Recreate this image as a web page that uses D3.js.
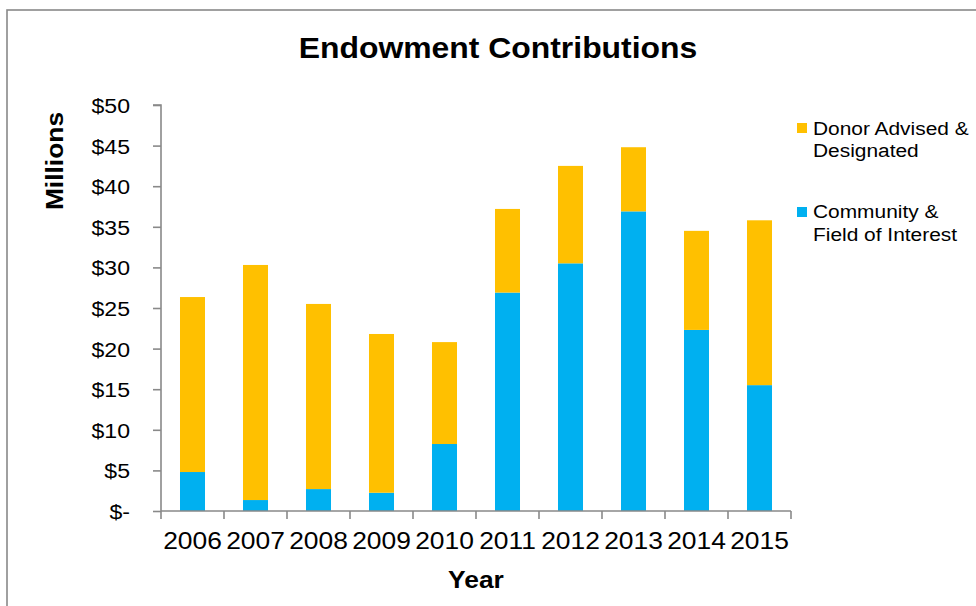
<!DOCTYPE html>
<html>
<head>
<meta charset="utf-8">
<script src="https://cdn.jsdelivr.net/npm/d3@7"></script>
<style>
  html, body { margin: 0; padding: 0; background: #fff; }
  svg { display: block; font-family: "Liberation Sans", Arial, sans-serif; }
</style>
</head>
<body>
<svg id="chart" width="976" height="606"></svg>
<script>
// Endowment contributions by year, in millions of dollars
const years = ["2006", "2007", "2008", "2009", "2010", "2011", "2012", "2013", "2014", "2015"];
const communityField = [4.8, 1.35, 2.7, 2.25, 8.25, 26.9, 30.5, 36.9, 22.3, 15.5];
const donorAdvised = [21.55, 28.95, 22.8, 19.55, 12.55, 10.3, 12.0, 7.9, 12.2, 20.3];
const seriesNames = ["Donor Advised & Designated", "Community & Field of Interest"];
const yTickValues = [0, 5, 10, 15, 20, 25, 30, 35, 40, 45, 50];

const colors = { community: "#00B0F0", donor: "#FFC000" };
const axisColor = "#898989";
const stretch = 1.1; // horizontal glyph stretch of the labels

const svg = d3.select("#chart");
const x0 = 161, x1 = 791, yTop = 105, yBottom = 511;

// outer frame
svg.append("rect")
  .attr("x", 7).attr("y", 10).attr("width", 1000).attr("height", 700)
  .attr("fill", "#fff").attr("stroke", axisColor).attr("stroke-width", 1.6);

const x = d3.scaleBand().domain(years).range([x0, x1])
  .paddingInner(0.603).paddingOuter(0.3015);
const y = d3.scaleLinear().domain([0, 50]).range([yBottom, yTop]);

// stacked data
const table = years.map((yr, i) => ({ year: yr, community: communityField[i], donor: donorAdvised[i] }));
const stack = d3.stack().keys(["community", "donor"]);
const layers = stack(table);

svg.append("g").selectAll("g")
  .data(layers).join("g")
  .attr("fill", d => colors[d.key])
  .selectAll("rect")
  .data(d => d).join("rect")
  .attr("x", d => x(d.data.year))
  .attr("width", x.bandwidth())
  .attr("y", d => y(d[1]))
  .attr("height", d => y(d[0]) - y(d[1]));

// helper for horizontally stretched text
function label(g, tx, ty, text, opts) {
  const o = Object.assign({ size: 21, weight: "normal", anchor: "start", rotate: 0, sx: stretch }, opts || {});
  return g.append("text")
    .attr("transform", `translate(${tx},${ty}) rotate(${o.rotate}) scale(${o.sx},1)`)
    .attr("text-anchor", o.anchor)
    .attr("font-size", o.size)
    .attr("font-weight", o.weight)
    .attr("fill", "#000")
    .text(text);
}

// y axis
const yAxis = svg.append("g").attr("transform", `translate(${x0},0)`)
  .call(d3.axisLeft(y).tickValues(yTickValues).tickSize(8).tickFormat(""));
yAxis.select(".domain").attr("stroke", axisColor).attr("stroke-width", 1.6)
  .attr("d", `M-8,${yTop}H0V${yBottom}`);
yAxis.selectAll(".tick line").attr("stroke", axisColor).attr("stroke-width", 1.6);

const yLabels = svg.append("g");
yTickValues.forEach(v => {
  label(yLabels, 130, y(v) + 8, v === 0 ? "$-" : "$" + v, { size: 21, anchor: "end" });
});

// x axis with ticks at category boundaries
const xAxisG = svg.append("g");
xAxisG.append("line")
  .attr("x1", x0).attr("x2", x1).attr("y1", yBottom).attr("y2", yBottom)
  .attr("stroke", axisColor).attr("stroke-width", 1.6);
const boundaries = years.map(yr => x(yr) - x.step() * x.paddingInner() / 2).concat([x1]);
xAxisG.selectAll("line.tick").data(boundaries).join("line")
  .attr("class", "tick")
  .attr("x1", d => d).attr("x2", d => d)
  .attr("y1", yBottom).attr("y2", yBottom + 8)
  .attr("stroke", axisColor).attr("stroke-width", 1.6);
years.forEach(yr => {
  label(xAxisG, x(yr) + x.bandwidth() / 2, 549, yr, { size: 24, anchor: "middle" });
});

// titles
label(svg, 498, 58, "Endowment Contributions", { size: 29, weight: "bold", anchor: "middle" });
label(svg, (x0 + x1) / 2, 588, "Year", { size: 24, weight: "bold", anchor: "middle" });
label(svg, 63, 161, "Millions", { size: 24, weight: "bold", anchor: "middle", rotate: -90 });

// legend
const legend = svg.append("g");
const legendItems = [
  { lines: ["Donor Advised &", "Designated"], color: colors.donor, box: 123, baselines: [135, 157] },
  { lines: ["Community &", "Field of Interest"], color: colors.community, box: 207, baselines: [218, 241] }
];
legendItems.forEach(item => {
  legend.append("rect").attr("x", 797).attr("y", item.box).attr("width", 10).attr("height", 10)
    .attr("fill", item.color);
  item.lines.forEach((ln, i) => {
    label(legend, 813, item.baselines[i], ln, { size: 19 });
  });
});
</script>
</body>
</html>
